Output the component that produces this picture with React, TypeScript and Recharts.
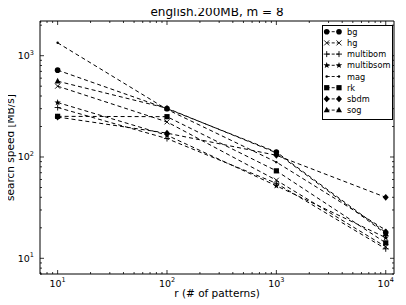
import React from "react"
import { Line, LineChart, XAxis, YAxis } from "recharts"

// r values and search speeds (MB/s)
const rValues = [10, 100, 1000, 10000]
const bg = [720, 300, 112, 18]
const hg = [500, 222, 59, 13]
const multibom = [308, 152, 55, 12.4]
const multibsom = [345, 164, 52, 16]
const mag = [1340, 295, 89, 19]
const rk = [252, 250, 73, 14.2]
const sbdm = [248, 172, 104, 40]
const sog = [560, 303, 110, 17.5]

const xTicks = [7, 8, 9, 10, 20, 30, 40, 50, 60, 70, 80, 90, 100, 200, 300, 400, 500, 600, 700, 800, 900, 1000, 2000, 3000, 4000, 5000, 6000, 7000, 8000, 9000, 10000]
const yTicks = [7, 8, 9, 10, 20, 30, 40, 50, 60, 70, 80, 90, 100, 200, 300, 400, 500, 600, 700, 800, 900, 1000, 2000]

const series = [
  { key: "bg", values: bg, shape: "circle" },
  { key: "hg", values: hg, shape: "x" },
  { key: "multibom", values: multibom, shape: "plus" },
  { key: "multibsom", values: multibsom, shape: "star" },
  { key: "mag", values: mag, shape: "point" },
  { key: "rk", values: rk, shape: "square" },
  { key: "sbdm", values: sbdm, shape: "diamond" },
  { key: "sog", values: sog, shape: "triangle" },
]

const data = rValues.map((r, i) => {
  const row: Record<string, number> = { r }
  series.forEach((s) => (row[s.key] = s.values[i]))
  return row
})

const FONT = "DejaVu Sans"

function Marker({ cx, cy, shape }: { cx: number; cy: number; shape: string }) {
  if (cx == null || cy == null) return null
  switch (shape) {
    case "circle":
      return <circle cx={cx} cy={cy} r={2.8} fill="#000" />
    case "x":
      return (
        <path d={`M${cx - 2.5},${cy - 2.5}L${cx + 2.5},${cy + 2.5}M${cx - 2.5},${cy + 2.5}L${cx + 2.5},${cy - 2.5}`} stroke="#000" strokeWidth={0.9} />
      )
    case "plus":
      return <path d={`M${cx - 3},${cy}L${cx + 3},${cy}M${cx},${cy - 3}L${cx},${cy + 3}`} stroke="#000" strokeWidth={0.9} />
    case "star": {
      const pts: string[] = []
      for (let k = 0; k < 10; k++) {
        const rad = k % 2 === 0 ? 3.4 : 1.4
        const a = -Math.PI / 2 + (k * Math.PI) / 5
        pts.push(`${cx + rad * Math.cos(a)},${cy + rad * Math.sin(a)}`)
      }
      return <polygon points={pts.join(" ")} fill="#000" />
    }
    case "point":
      return <circle cx={cx} cy={cy} r={1.2} fill="#000" />
    case "square":
      return <rect x={cx - 2.6} y={cy - 2.6} width={5.2} height={5.2} fill="#000" />
    case "diamond":
      return <polygon points={`${cx},${cy - 3.4} ${cx + 3},${cy} ${cx},${cy + 3.4} ${cx - 3},${cy}`} fill="#000" />
    case "triangle":
      return <polygon points={`${cx},${cy - 3.4} ${cx + 3},${cy + 2.2} ${cx - 3},${cy + 2.2}`} fill="#000" />
  }
  return null
}

const isMajor = (v: number) => Math.abs(Math.log10(v) - Math.round(Math.log10(v))) < 1e-9

function PowerLabel({ x, y, v, anchor }: { x: number; y: number; v: number; anchor: string }) {
  return (
    <text x={x} y={y} textAnchor={anchor} fontFamily={FONT} fontSize={9.5} fill="#000">
      <tspan>10</tspan>
      <tspan dy={-4.5} fontSize={6.5}>
        {Math.round(Math.log10(v))}
      </tspan>
    </text>
  )
}

// ticks point inwards; axis line coordinate is passed as x/y because tickSize/tickMargin are 0
function BottomTick(props: any) {
  const { x, y, payload } = props
  const major = isMajor(payload.value)
  return (
    <g>
      <line x1={x} y1={y} x2={x} y2={y - (major ? 4 : 2)} stroke="#000" strokeWidth={0.8} />
      {major && <PowerLabel x={x} y={y + 12.5} v={payload.value} anchor="middle" />}
    </g>
  )
}

function TopTick(props: any) {
  const { x, y, payload } = props
  const major = isMajor(payload.value)
  return <line x1={x} y1={y} x2={x} y2={y + (major ? 4 : 2)} stroke="#000" strokeWidth={0.8} />
}

function LeftTick(props: any) {
  const { x, y, payload } = props
  const major = isMajor(payload.value)
  return (
    <g>
      <line x1={x} y1={y} x2={x + (major ? 4 : 2)} y2={y} stroke="#000" strokeWidth={0.8} />
      {major && <PowerLabel x={x - 6} y={y + 3.5} v={payload.value} anchor="end" />}
    </g>
  )
}

function RightTick(props: any) {
  const { x, y, payload } = props
  const major = isMajor(payload.value)
  return <line x1={x} y1={y} x2={x - (major ? 4 : 2)} y2={y} stroke="#000" strokeWidth={0.8} />
}

function LegendBox() {
  return (
    <div style={{ position: "absolute", left: 322, top: 25, width: 71, height: 95 }}>
      <svg width={71} height={95}>
        <rect x={0.5} y={0.5} width={70} height={94} fill="#fff" stroke="#000" strokeWidth={1} />
        {series.map((s, i) => {
          const y = 6.7 + i * 11.2
          return (
            <g key={s.key}>
              <line x1={4.7} y1={y} x2={17} y2={y} stroke="#000" strokeWidth={0.9} strokeDasharray="3 2" />
              <Marker cx={4.7} cy={y} shape={s.shape} />
              <Marker cx={17} cy={y} shape={s.shape} />
              <text x={25} y={y + 3} fontFamily={FONT} fontSize={8.2} fill="#000">
                {s.key}
              </text>
            </g>
          )
        })}
      </svg>
    </div>
  )
}

// title and axis titles drawn in their own layer on top of the chart
function Titles() {
  return (
    <svg width={406} height={305} style={{ position: "absolute", left: 0, top: 0, pointerEvents: "none", overflow: "visible" }}>
      <text x={217} y={16} textAnchor="middle" fontFamily={FONT} fontSize={12} fill="#000">
        english.200MB, m = 8
      </text>
      <text x={217} y={297} textAnchor="middle" fontFamily={FONT} fontSize={10.5} fill="#000">
        r (# of patterns)
      </text>
      <text x={14} y={147.5} transform="rotate(-90 14 147.5)" textAnchor="middle" fontFamily={FONT} fontSize={10.5} fill="#000">
        search speed [MB/s]
      </text>
    </svg>
  )
}

export default function App() {
  return (
    <div style={{ position: "relative", width: 406, height: 305, margin: "-8px 0 0 -8px", background: "#fff" }}>
      <LineChart width={406} height={305} data={data} margin={{ top: 0, right: 0, bottom: 0, left: 0 }}>
        <XAxis
          dataKey="r"
          type="number"
          scale="log"
          domain={[6.9, 11900]}
          allowDataOverflow
          ticks={xTicks}
          interval={0}
          height={31}
          tickSize={0}
          tickMargin={0}
          tickLine={false}
          axisLine={{ stroke: "#000" }}
          tick={<BottomTick />}
        />
        <XAxis
          xAxisId="top"
          orientation="top"
          dataKey="r"
          type="number"
          scale="log"
          domain={[6.9, 11900]}
          allowDataOverflow
          ticks={xTicks}
          interval={0}
          height={21}
          tickSize={0}
          tickMargin={0}
          tickLine={false}
          axisLine={{ stroke: "#000" }}
          tick={<TopTick />}
        />
        <YAxis
          type="number"
          scale="log"
          domain={[7, 2200]}
          allowDataOverflow
          ticks={yTicks}
          interval={0}
          width={40}
          tickSize={0}
          tickMargin={0}
          tickLine={false}
          axisLine={{ stroke: "#000" }}
          tick={<LeftTick />}
        />
        <YAxis
          yAxisId="right"
          orientation="right"
          type="number"
          scale="log"
          domain={[7, 2200]}
          allowDataOverflow
          ticks={yTicks}
          interval={0}
          width={12}
          tickSize={0}
          tickMargin={0}
          tickLine={false}
          axisLine={{ stroke: "#000" }}
          tick={<RightTick />}
        />
        {series.map((s) => (
          <Line
            key={s.key}
            dataKey={s.key}
            stroke="#000"
            strokeWidth={1}
            strokeDasharray="4 3"
            isAnimationActive={false}
            dot={(p: any) => <Marker key={`${s.key}-${p.index}`} cx={p.cx} cy={p.cy} shape={s.shape} />}
            activeDot={false}
          />
        ))}
      </LineChart>
      <Titles />
      <LegendBox />
    </div>
  )
}
